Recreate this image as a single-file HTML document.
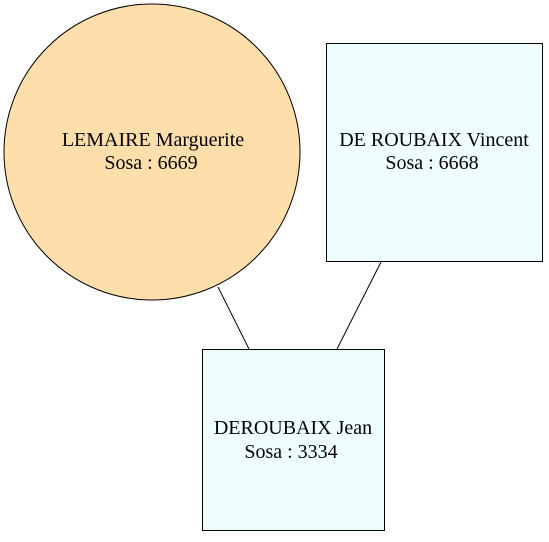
<!DOCTYPE html>
<html><head><meta charset="utf-8"><style>html,body{margin:0;padding:0;background:#fff}</style></head>
<body>
<svg width="549" height="537" viewBox="0 0 549 537" xmlns="http://www.w3.org/2000/svg" font-family="Liberation Serif, serif" font-size="20" text-anchor="middle">
<rect width="549" height="537" fill="#fff"/>
<line x1="218" y1="287" x2="249" y2="349" stroke="#000" stroke-width="1"/>
<line x1="381" y1="262" x2="337" y2="349" stroke="#000" stroke-width="1"/>
<circle cx="152" cy="152" r="148" fill="#fedfac" stroke="#000" stroke-width="1"/>
<rect x="326.5" y="43.5" width="216" height="218" fill="#efffff" stroke="#000" stroke-width="1"/>
<rect x="202.5" y="349.5" width="182" height="181" fill="#efffff" stroke="#000" stroke-width="1"/>
<text x="153" y="146">LEMAIRE Marguerite</text>
<text x="151" y="169">Sosa : 6669</text>
<text x="434" y="146">DE ROUBAIX Vincent</text>
<text x="432" y="169">Sosa : 6668</text>
<text x="293" y="434">DEROUBAIX Jean</text>
<text x="291" y="458">Sosa : 3334</text>
</svg>
</body></html>
